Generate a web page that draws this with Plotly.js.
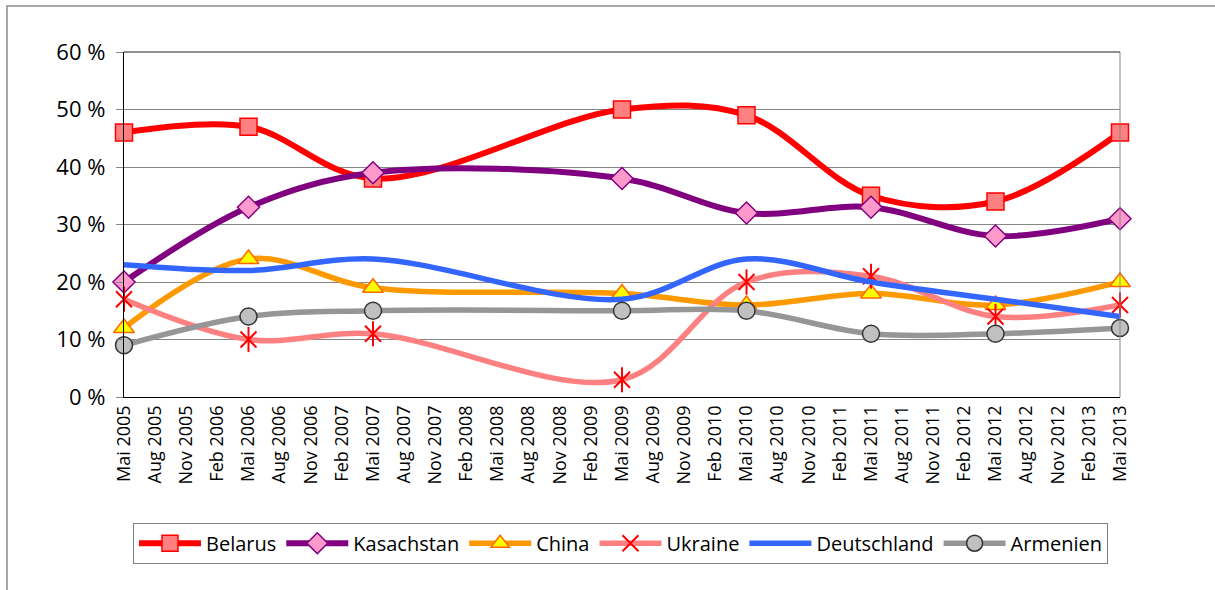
<!DOCTYPE html>
<html>
<head>
<meta charset="utf-8">
<script src="https://cdn.plot.ly/plotly-3.0.1.min.js"></script>
<style>
html,body{margin:0;padding:0;background:#fff;}
#chart{width:1215px;height:590px;}
</style>
</head>
<body>
<div id="chart"></div>
<script>
// All quarterly category labels on the x axis
const categories = [
  "Mai 2005","Aug 2005","Nov 2005","Feb 2006","Mai 2006","Aug 2006","Nov 2006","Feb 2007",
  "Mai 2007","Aug 2007","Nov 2007","Feb 2008","Mai 2008","Aug 2008","Nov 2008","Feb 2009",
  "Mai 2009","Aug 2009","Nov 2009","Feb 2010","Mai 2010","Aug 2010","Nov 2010","Feb 2011",
  "Mai 2011","Aug 2011","Nov 2011","Feb 2012","Mai 2012","Aug 2012","Nov 2012","Feb 2013","Mai 2013"
];
// Survey dates (data points)
const surveyDates = ["Mai 2005","Mai 2006","Mai 2007","Mai 2008","Mai 2009","Mai 2010","Mai 2011","Mai 2012","Mai 2013"];

const belarus     = [46, 47, 38, null, 50, 49, 35, 34, 46];
const kasachstan  = [20, 33, 39, null, 38, 32, 33, 28, 31];
const china       = [12, 24, 19, null, 18, 16, 18, 16, 20];
const ukraine     = [17, 10, 11, null, 3, 20, 21, 14, 16];
const deutschland = [23, 22, 24, null, 17, 24, 20, 17, 14];
const armenien    = [9, 14, 15, null, 15, 15, 11, 11, 12];

const yTicks = [0, 10, 20, 30, 40, 50, 60];

function series(name, y, lineColor, width, marker) {
  const t = {
    type: 'scatter', mode: marker ? 'lines+markers' : 'lines', name: name,
    x: surveyDates, y: y, connectgaps: true, cliponaxis: false,
    line: {color: lineColor, width: width, shape: 'spline', smoothing: 1}
  };
  if (marker) t.marker = marker;
  return t;
}

const traces = [
  series('Belarus', belarus, '#FF0000', 6,
    {symbol: 'square', size: 17, color: '#FF8080', line: {color: '#FF0000', width: 1.5}}),
  series('Kasachstan', kasachstan, '#800080', 6,
    {symbol: 'diamond', size: 17, color: '#FF99CC', line: {color: '#800080', width: 1.5}}),
  series('China', china, '#FF9900', 5.5,
    {symbol: 'triangle-up', size: 18, color: '#FFFF00', line: {color: '#FF6600', width: 1.5}}),
  series('Ukraine', ukraine, '#FF8080', 5.5,
    {symbol: 'x-thin-open', size: 16, color: '#FF0000', line: {color: '#FF0000', width: 2}}),
  {type: 'scatter', mode: 'markers', name: 'Ukraine', showlegend: false, x: surveyDates, y: ukraine,
    cliponaxis: false, marker: {symbol: 'line-ns-open', size: 18, color: '#FF0000', line: {color: '#FF0000', width: 2}}},
  series('Deutschland', deutschland, '#3366FF', 5.5, null),
  series('Armenien', armenien, '#969696', 5.5,
    {symbol: 'circle', size: 17, color: '#C0C0C0', line: {color: '#333333', width: 1.5}})
];

const layout = {
  width: 1215, height: 590,
  paper_bgcolor: '#ffffff', plot_bgcolor: '#ffffff',
  margin: {l: 124, r: 95, t: 52, b: 193},
  showlegend: true,
  font: {family: 'Open Sans, sans-serif', color: '#000'},
  xaxis: {
    type: 'category', categoryorder: 'array', categoryarray: categories,
    range: [0, categories.length - 1], automargin: false,
    tickmode: 'array', tickvals: categories, ticktext: categories,
    tickangle: -90, tickfont: {size: 18, family: 'Open Sans, sans-serif', color: '#000'},
    showgrid: false, zeroline: false,
    showline: true, linecolor: '#000', linewidth: 1.2,
    ticks: ''
  },
  yaxis: {
    range: [0, 60], tickmode: 'array', tickvals: yTicks, automargin: false,
    ticktext: yTicks.map(v => v + ' %'),
    tickfont: {size: 22, family: 'Open Sans, sans-serif', color: '#000'},
    ticklabelstandoff: 6,
    showgrid: true, gridcolor: '#868686', gridwidth: 1,
    zeroline: false, showline: true, linecolor: '#000', linewidth: 1.2,
    ticks: 'outside', ticklen: 7, tickcolor: '#868686', tickwidth: 1
  },
  legend: {
    orientation: 'h', xref: 'container', yref: 'container',
    x: 0.5107, xanchor: 'center', y: 0.114, yanchor: 'top',
    bordercolor: '#808080', borderwidth: 1, bgcolor: '#fff',
    font: {size: 20, family: 'Open Sans, sans-serif', color: '#000'},
    itemwidth: 62, tracegroupgap: 0
  },
  shapes: [
    {type: 'rect', xref: 'paper', yref: 'paper', x0: -0.1175, x1: 1.2, y0: -1.5, y1: 1.1333,
      line: {color: '#8c8c8c', width: 1.5}, fillcolor: 'rgba(0,0,0,0)', layer: 'below'},
    {type: 'line', xref: 'paper', yref: 'paper', x0: 1, x1: 1, y0: 0, y1: 1,
      line: {color: '#868686', width: 1}},
    {type: 'line', xref: 'paper', yref: 'paper', x0: 0, x1: 1, y0: 1, y1: 1,
      line: {color: '#222', width: 1.2}}
  ]
};

Plotly.newPlot('chart', traces, layout, {displayModeBar: false, staticPlot: true});
</script>
</body>
</html>
